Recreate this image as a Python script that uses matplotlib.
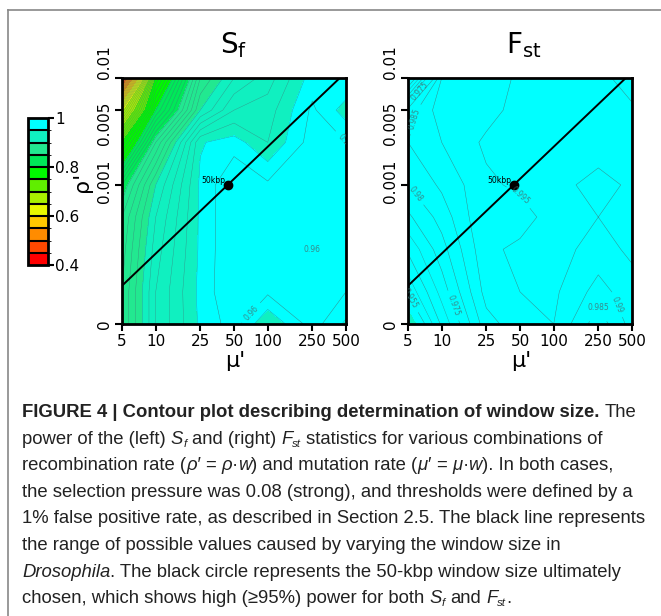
import numpy as np
import matplotlib
matplotlib.use("Agg")
import matplotlib.pyplot as plt
from matplotlib.colors import ListedColormap, BoundaryNorm
from matplotlib import font_manager
from matplotlib.lines import Line2D

# ---------------- data ----------------
mu_vals = [5, 10, 25, 50, 100, 250, 500]
rho_vals = [0, 1e-4, 2.5e-4, 5e-4, 1e-3, 2.5e-3, 5e-3, 1e-2]
rho_zero_pos = 5e-5          # where rho' = 0 sits on the log axis

mu_ticks = [5, 10, 25, 50, 100, 250, 500]
mu_ticklabels = ["5", "10", "25", "50", "100", "250", "500"]
rho_ticks = [0, 0.001, 0.005, 0.01]
rho_ticklabels = ["0", "0.001", "0.005", "0.01"]

# power of S_f (rows: rho' ascending, columns: mu')
sf_power = [
    [0.870, 0.920, 0.952, 0.965, 0.940, 0.965, 0.948],
    [0.870, 0.920, 0.953, 0.970, 0.962, 0.970, 0.960],
    [0.865, 0.915, 0.952, 0.970, 0.970, 0.960, 0.965],
    [0.860, 0.910, 0.952, 0.970, 0.970, 0.970, 0.965],
    [0.840, 0.900, 0.952, 0.970, 0.962, 0.962, 0.970],
    [0.750, 0.860, 0.949, 0.955, 0.940, 0.965, 0.960],
    [0.640, 0.800, 0.900, 0.930, 0.935, 0.962, 0.945],
    [0.440, 0.750, 0.880, 0.910, 0.925, 0.955, 0.960],
]

# power of F_st
fst_power = [
    [0.944, 0.966, 0.988, 0.993, 0.995, 0.982, 0.992],
    [0.956, 0.972, 0.992, 0.995, 0.996, 0.988, 0.993],
    [0.966, 0.978, 0.994, 0.996, 0.997, 0.993, 0.996],
    [0.974, 0.982, 0.995, 0.993, 0.997, 0.995, 0.997],
    [0.980, 0.986, 0.994, 0.996, 0.997, 0.993, 0.996],
    [0.985, 0.990, 0.996, 0.997, 0.996, 0.998, 0.997],
    [0.982, 0.993, 0.993, 0.997, 0.998, 0.997, 0.996],
    [0.945, 0.990, 0.992, 0.996, 0.997, 0.997, 0.992],
]

# Drosophila window-size line and chosen 50 kbp window
window_line_mu = [5, 440]
window_line_rho = [1.14e-4, 0.01]
chosen_mu = 44
chosen_rho = 0.001
chosen_label = "50kbp"

cbar_colors = ["#ff0000", "#ff4800", "#ff8c00", "#ffc800", "#e8f800", "#a8f000",
               "#60ee00", "#00f800", "#00e858", "#22e890", "#10f0c0", "#00ffff"]
cbar_bounds = np.round(np.arange(0.40, 1.0001, 0.05), 3)
cbar_ticks = [0.4, 0.6, 0.8, 1.0]
cbar_ticklabels = ["0.4", "0.6", "0.8", "1"]

# ---------------- figure ----------------
W, H = 661, 616
fig = plt.figure(figsize=(W / 100, H / 100), dpi=100)
plt.rcParams["font.family"] = ["DejaVu Sans"]
PT = 0.72  # points per pixel at 100 dpi

cmap = ListedColormap(cbar_colors)
norm = BoundaryNorm(cbar_bounds, cmap.N)


def xpos(m):
    return np.log10(np.asarray(m, dtype=float))


def ypos(r):
    r = np.asarray(r, dtype=float)
    return np.log10(np.where(r == 0, rho_zero_pos, r))


def px_axes(x0, y0, x1, y1):
    return [x0 / W, 1 - y1 / H, (x1 - x0) / W, (y1 - y0) / H]


line_col = "#3f7878"
ylabel_shift_px = [0, -4, 13, -16]   # vertical nudges of the rotated y tick labels


def panel(ax, Z, fill_step, line_levels, label_pts, label_levels):
    X, Y = np.meshgrid(xpos(mu_vals), ypos(rho_vals))
    Z = np.asarray(Z)
    fill_levels = np.round(np.arange(0.40, 1.0001, fill_step), 4)
    ax.contourf(X, Y, Z, levels=fill_levels, cmap=cmap, norm=norm)
    other = [l for l in line_levels if all(abs(l - q) > 1e-6 for q in label_levels)]
    ax.contour(X, Y, Z, levels=other, colors=line_col, linewidths=0.3, alpha=0.75)
    cs = ax.contour(X, Y, Z, levels=sorted(label_levels), colors=line_col, linewidths=0.35,
                    alpha=0.85)
    ax.clabel(cs, manual=label_pts, fontsize=5.5, colors=line_col,
              inline=True, fmt=lambda v: f"{v:g}")
    ax.plot(xpos(window_line_mu), ypos(window_line_rho), color="k", lw=1.4)
    ax.plot(xpos(chosen_mu), ypos(chosen_rho), "o", color="k", ms=6)
    ax.annotate(chosen_label, (xpos(chosen_mu), ypos(chosen_rho)), xytext=(-1.5, 1.5),
                textcoords="offset points", ha="right", va="baseline", fontsize=5.5)
    ax.set_xlim(xpos(mu_vals[0]), xpos(mu_vals[-1]))
    ax.set_ylim(ypos(rho_vals[0]), ypos(rho_vals[-1]))
    ax.set_xticks(xpos(mu_ticks))
    ax.set_xticklabels(mu_ticklabels, fontsize=11)
    ax.set_yticks(ypos(rho_ticks))
    ax.tick_params(direction="out", length=5, width=1.5, pad=2, labelleft=False)
    for t, lab, sh in zip(rho_ticks, rho_ticklabels, ylabel_shift_px):
        ax.annotate(lab, xy=(0, float(ypos(t))), xycoords=("axes fraction", "data"),
                    xytext=(-18 * PT, -sh * PT), textcoords="offset points",
                    rotation=90, ha="center", va="center", fontsize=11)
    for s in ax.spines.values():
        s.set_linewidth(2)


ax1 = fig.add_axes(px_axes(122, 78, 346, 324))
ax2 = fig.add_axes(px_axes(408, 78, 632, 324))

sf_lines = np.round(np.arange(0.41, 0.995, 0.01), 3)
panel(ax1, sf_power, 0.01, sf_lines,
      [(2.556, -2.72), (1.824, -4.17), (2.672, -3.42)], [0.96])

fst_lines = np.round(np.arange(0.955, 0.9996, 0.005), 4)
panel(ax2, fst_power, 0.005, fst_lines,
      [(0.788, -2.11), (0.779, -2.39), (0.76, -3.09), (0.74, -4.05),
       (1.074, -4.14), (1.85, -2.95), (2.404, -4.12), (2.565, -4.12)],
      [0.955, 0.965, 0.975, 0.98, 0.985, 0.99, 0.995])

# titles and axis labels
fig.text(234 / W, 1 - 53 / H, r"S$_{\mathrm{f}}$", fontsize=20, ha="center", va="baseline",
         math_fontfamily="dejavusans")
fig.text(524 / W, 1 - 53 / H, r"F$_{\mathrm{st}}$", fontsize=20, ha="center", va="baseline",
         math_fontfamily="dejavusans")
fig.text(92 / W, 1 - 182 / H, "\u03c1'", fontsize=16, rotation=90, ha="right", va="center")
fig.text(235 / W, 1 - 367 / H, "\u03bc'", fontsize=16, ha="center", va="baseline")
fig.text(521 / W, 1 - 367 / H, "\u03bc'", fontsize=16, ha="center", va="baseline")

# colorbar
cax = fig.add_axes(px_axes(28, 118, 48, 265))
sm = matplotlib.cm.ScalarMappable(norm=norm, cmap=cmap)
cb = fig.colorbar(sm, cax=cax, ticks=cbar_ticks, drawedges=True)
cb.ax.set_yticklabels(cbar_ticklabels, fontsize=11)
cb.dividers.set_color("k")
cb.dividers.set_linewidth(1.5)
cb.outline.set_linewidth(2)
cb.ax.tick_params(direction="out", length=4, width=1.5, pad=1)

# border of the figure panel
fig.add_artist(Line2D([8 / W, 8 / W], [0, 1 - 10 / H], transform=fig.transFigure,
                      color="#888888", lw=1.2))
fig.add_artist(Line2D([8 / W, 1], [1 - 10 / H, 1 - 10 / H], transform=fig.transFigure,
                      color="#888888", lw=1.2))

# ---------------- caption ----------------
names = {f.name for f in font_manager.fontManager.ttflist}
cap_main = "Liberation Sans Narrow" if "Liberation Sans Narrow" in names else "Liberation Sans"
cap_family = [cap_main, "DejaVu Sans"]
renderer = fig.canvas.get_renderer()


def _w(s, fs, weight, style):
    t = fig.text(0, 0, s, fontsize=fs, fontweight=weight, fontstyle=style, family=cap_family)
    w = t.get_window_extent(renderer).width
    t.remove()
    return w


def seg_width(s, fs, weight, style):
    return _w("x" + s + "x", fs, weight, style) - _w("xx", fs, weight, style)


N, B, I, IS = "n", "b", "i", "is"


def props(kind, fs):
    weight = "bold" if kind == B else "normal"
    style = "italic" if kind in (I, IS) else "normal"
    size = fs * 0.62 if kind == IS else fs
    return size, weight, style


def line_width(segs, fs):
    return sum(seg_width(s, *props(k, fs)) for s, k in segs)


def draw_line(segs, y_base, fs, x0=22):
    x = x0
    for s, k in segs:
        size, weight, style = props(k, fs)
        lead = len(s) - len(s.lstrip(" "))
        off = seg_width(" " * lead, size, weight, style) if lead else 0
        yy = y_base + (3 if k == IS else 0)
        fig.text((x + off) / W, 1 - yy / H, s.strip(" "), fontsize=size, fontweight=weight,
                 fontstyle=style, family=cap_family, ha="left", va="baseline", color="#222222")
        x += seg_width(s, size, weight, style)


caption = [
    [("FIGURE 4 | Contour plot describing determination of window size.", B), (" The", N)],
    [("power of the (left) ", N), ("S", I), ("f", IS), (" and (right) ", N), ("F", I), ("st", IS),
     (" statistics for various combinations of", N)],
    [("recombination rate (", N), ("\u03c1\u2032", I), (" = ", N), ("\u03c1", I), ("\u00b7", N),
     ("w", I), (") and mutation rate (", N), ("\u03bc\u2032", I), (" = ", N), ("\u03bc", I),
     ("\u00b7", N), ("w", I), ("). In both cases,", N)],
    [("the selection pressure was 0.08 (strong), and thresholds were defined by a", N)],
    [("1% false positive rate, as described in Section 2.5. The black line represents", N)],
    [("the range of possible values caused by varying the window size in", N)],
    [("Drosophila", I), (". The black circle represents the 50-kbp window size ultimately", N)],
    [("chosen, which shows high (\u226595%) power for both ", N), ("S", I), ("f", IS), (" and ", N),
     ("F", I), ("st", IS), (".", N)],
]

ref_w = line_width(caption[3], 10)
cap_fs = 10 * 615 / ref_w
y0 = 417
dy = 26.6
for i, segs in enumerate(caption):
    draw_line(segs, y0 + i * dy, cap_fs)

fig.savefig("out.png", dpi=100)
